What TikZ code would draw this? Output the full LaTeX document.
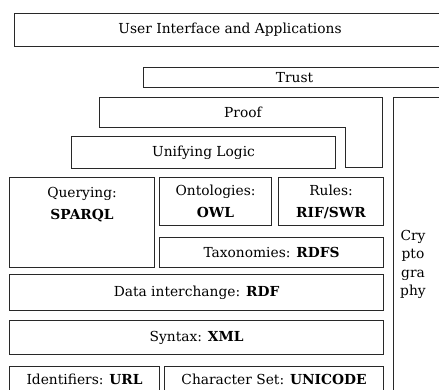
\documentclass[tikz,border=0pt]{standalone}
\usepackage{fontspec}
\setmainfont{DejaVu Serif}
\usetikzlibrary{positioning,calc}
\definecolor{lgray}{RGB}{40,40,40}

\tikzset{
    layer/.style={draw=lgray, line width=1.1pt, anchor=north west, inner sep=0pt,
        align=center, font=\fontsize{13.8}{22}\selectfont},
    txt/.style={align=center, inner sep=0pt, font=\fontsize{13.8}{22}\selectfont},
}

\begin{document}
\begin{tikzpicture}[x=1pt,y=-1pt]
    \useasboundingbox (0,0) rectangle (439,390);

    % top layers, open to the right
    \node[layer, minimum width=431pt, minimum height=33pt] (ui) at (14,13) {User Interface and Applications};
    \node[layer, minimum width=302pt, minimum height=20pt] (trust) at (143,67) {Trust};

    % proof wraps round the logic layer
    \draw[draw=lgray, line width=1.1pt, shift={(0.55,0.55)}]
        (99,97) -- (382,97) -- (382,167) -- (345,167) -- (345,127) -- (99,127) -- cycle;
    \node[txt] (proof) at (243,112) {Proof};
    \node[layer, minimum width=264pt, minimum height=32pt] (logic) at (71,136) {Unifying Logic};

    % crypto column
    \node[layer, minimum width=52pt, minimum height=303pt] (crypto) at (393,97) {};
    \node[txt, anchor=north, font=\fontsize{13.8}{18.5}\selectfont] (cryptoText) at (413,230) {Cry\\pto\\gra\\phy};

    \node[layer, minimum width=145pt, minimum height=90pt] (query) at (9,177) {};
    \node[txt] (queryText) at (query.north |- 0,205) {Querying:\\\textbf{SPARQL}};
    \node[layer, minimum width=112pt, minimum height=48pt] (onto) at (159,177) {Ontologies:\\\textbf{OWL}};
    \node[layer, minimum width=105pt, minimum height=48pt] (rules) at (278,177) {Rules:\\\textbf{RIF/SWR}};
    \node[layer, minimum width=224pt, minimum height=30pt] (rdfs) at (159,237) {Taxonomies: \textbf{RDFS}};

    \node[layer, minimum width=374pt, minimum height=36pt] (rdf) at (9,274) {Data interchange: \textbf{RDF}};
    \node[layer, minimum width=374pt, minimum height=34pt] (xml) at (9,320) {Syntax: \textbf{XML}};

    % bottom row runs off the page
    \node[layer, minimum width=150pt, minimum height=26pt] (uri) at (9,366) {Identifiers: \textbf{URL}};
    \node[layer, minimum width=219pt, minimum height=26pt] (unicode) at (164,366) {Character Set: \textbf{UNICODE}};
\end{tikzpicture}
\end{document}
